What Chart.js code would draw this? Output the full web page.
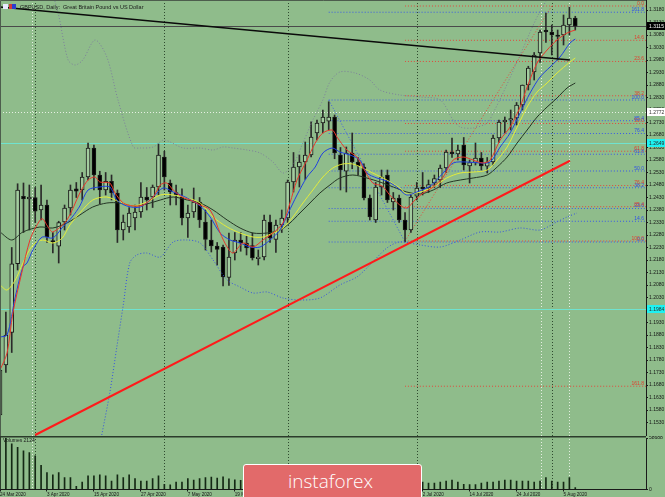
<!DOCTYPE html>
<html>
<head>
<meta charset="utf-8">
<script src="https://cdn.jsdelivr.net/npm/chart.js@4.4.0/dist/chart.umd.min.js"></script>
<style>
  html, body { margin: 0; padding: 0; background: #8fbc8b; }
  #wrap { position: relative; width: 665px; height: 497px; overflow: hidden; background: #8fbc8b; }
  #price { position: absolute; left: 0; top: 0; }
  #vol { position: absolute; left: 0; top: 436px; }
  #logo { position: absolute; left: 243px; top: 464px; width: 179px; height: 40px; box-sizing: border-box;
          background: #e26a6a; border: 1px solid #fff; border-radius: 3px; }
  #logo span { position: absolute; left: 44px; top: 3px; color: #fff; font: 300 19px "Open Sans", sans-serif; }
</style>
</head>
<body>
<div id="wrap">
  <canvas id="price" width="665" height="436"></canvas>
  <canvas id="vol" width="665" height="61"></canvas>
  <div id="logo"><span>instaforex</span></div>
</div>
<script>
// GBPUSD daily, bar 0 = 24 Mar 2020 ... bar 98 = 7 Aug 2020
const opens = [1.1560,1.1760,1.1890,1.2165,1.2435,1.2424,1.2430,1.2380,1.2400,1.2258,
  1.2235,1.2332,1.2388,1.2465,1.2460,1.2512,1.2628,1.2520,1.2460,1.2495,
  1.2448,1.2300,1.2312,1.2348,1.2372,1.2432,1.2432,1.2472,1.2592,1.2488,
  1.2450,1.2432,1.2348,1.2372,1.2412,1.2332,1.2260,1.2236,1.2232,1.2110,
  1.2208,1.2260,1.2248,1.2238,1.2185,1.2192,1.2332,1.2262,1.2320,1.2348,
  1.2492,1.2552,1.2572,1.2600,1.2688,1.2728,1.2735,1.2752,1.2600,1.2535,
  1.2608,1.2572,1.2552,1.2428,1.2340,1.2472,1.2520,1.2412,1.2428,1.2340,
  1.2300,1.2435,1.2472,1.2468,1.2488,1.2500,1.2548,1.2612,1.2604,1.2640,
  1.2556,1.2570,1.2588,1.2555,1.2572,1.2668,1.2732,1.2740,1.2748,1.2800,
  1.2880,1.2932,1.3008,1.3100,1.3092,1.3080,1.3080,1.3120,1.3148];
const highs = [1.1780,1.1972,1.2230,1.2485,1.2488,1.2480,1.2470,1.2480,1.2420,1.2290,
  1.2335,1.2400,1.2480,1.2490,1.2530,1.2648,1.2640,1.2535,1.2530,1.2520,
  1.2460,1.2360,1.2390,1.2400,1.2490,1.2470,1.2480,1.2644,1.2615,1.2500,
  1.2480,1.2465,1.2400,1.2468,1.2430,1.2380,1.2340,1.2250,1.2240,1.2288,
  1.2290,1.2290,1.2275,1.2288,1.2220,1.2360,1.2360,1.2340,1.2380,1.2500,
  1.2610,1.2600,1.2652,1.2733,1.2740,1.2780,1.2813,1.2760,1.2630,1.2632,
  1.2688,1.2590,1.2565,1.2440,1.2490,1.2540,1.2540,1.2450,1.2440,1.2370,
  1.2440,1.2490,1.2530,1.2500,1.2520,1.2560,1.2620,1.2668,1.2640,1.2670,
  1.2580,1.2648,1.2610,1.2590,1.2680,1.2740,1.2752,1.2780,1.2810,1.2880,
  1.2955,1.3010,1.3100,1.3168,1.3120,1.3100,1.3160,1.3192,1.3155];
const lows = [1.1520,1.1730,1.1810,1.2140,1.2290,1.2300,1.2330,1.2340,1.2250,1.2208,
  1.2168,1.2300,1.2360,1.2430,1.2420,1.2500,1.2460,1.2405,1.2440,1.2420,
  1.2250,1.2260,1.2290,1.2300,1.2350,1.2380,1.2390,1.2440,1.2460,1.2400,
  1.2400,1.2320,1.2270,1.2350,1.2310,1.2220,1.2212,1.2160,1.2076,1.2078,
  1.2180,1.2215,1.2200,1.2180,1.2160,1.2180,1.2250,1.2210,1.2290,1.2330,
  1.2452,1.2472,1.2502,1.2592,1.2660,1.2688,1.2700,1.2585,1.2460,1.2452,
  1.2545,1.2520,1.2420,1.2340,1.2330,1.2440,1.2410,1.2380,1.2330,1.2252,
  1.2290,1.2420,1.2440,1.2450,1.2470,1.2470,1.2530,1.2590,1.2580,1.2540,
  1.2488,1.2560,1.2540,1.2528,1.2560,1.2650,1.2688,1.2700,1.2720,1.2780,
  1.2860,1.2900,1.2970,1.3050,1.3000,1.2980,1.3040,1.3080,1.3100];
const closes = [1.1740,1.1880,1.2165,1.2460,1.2424,1.2432,1.2375,1.2400,1.2272,1.2252,
  1.2330,1.2388,1.2460,1.2455,1.2512,1.2628,1.2520,1.2460,1.2495,1.2448,
  1.2300,1.2332,1.2368,1.2372,1.2432,1.2420,1.2472,1.2600,1.2512,1.2452,
  1.2440,1.2348,1.2368,1.2412,1.2340,1.2262,1.2236,1.2222,1.2112,1.2192,
  1.2260,1.2248,1.2228,1.2188,1.2192,1.2340,1.2268,1.2320,1.2348,1.2492,
  1.2552,1.2572,1.2600,1.2672,1.2728,1.2752,1.2752,1.2608,1.2540,1.2608,
  1.2572,1.2556,1.2428,1.2352,1.2472,1.2512,1.2420,1.2428,1.2340,1.2300,
  1.2432,1.2468,1.2465,1.2482,1.2506,1.2548,1.2612,1.2604,1.2620,1.2560,
  1.2570,1.2588,1.2556,1.2572,1.2668,1.2732,1.2740,1.2746,1.2800,1.2880,
  1.2948,1.3000,1.3092,1.3092,1.3080,1.3074,1.3120,1.3148,1.3115];
const volumes = [50000,58688,52000,48000,44000,42000,38300,27500,19200,16800,
  19200,13500,13500,3600,8400,15600,15600,16800,15600,9600,
  16800,13500,16800,12300,9600,9600,12300,15600,6000,5200,
  8400,8400,12300,10800,12300,13500,14000,13000,14500,12000,
  11000,10500,11000,10000,5000,13000,14000,13000,12500,14000,
  15000,13500,14000,16000,12000,13000,15000,17000,16000,15000,
  15500,12500,14500,14000,11500,12500,13000,12000,12500,12000,
  12500,11000,8400,7200,7200,8400,9600,10800,8400,6000,
  5500,5500,7200,8400,8400,9600,10800,10800,9600,9600,
  9600,8400,9600,13500,9600,8400,8400,13500,2124];

// indicator lines: [bar, price]
const maRed = [[0,1.1740],[1.2,1.1808],[2.2,1.1968],[3.7,1.2128],[5.1,1.2260],[6.3,1.2320],[7.2,1.2345],[8.2,1.2312],[9,1.2292],[11.4,1.2340],[13.6,1.2448],[15,1.2500],[16.2,1.2512],[17,1.2492],[18.7,1.2488],[19.6,1.2448],[21,1.2408],[22.7,1.2396],[24.4,1.2400],[26.1,1.2432],[27.3,1.2480],[28.4,1.2488],[29.5,1.2460],[31,1.2432],[32.4,1.2420],[34.1,1.2400],[35.8,1.2380],[37.5,1.2288],[38.7,1.2232],[39.7,1.2208],[41.4,1.2248],[43.1,1.2232],[44.8,1.2260],[46.5,1.2288],[48.2,1.2328],[49.4,1.2408],[50.6,1.2500],[52.3,1.2580],[53.7,1.2648],[55,1.2688],[56.6,1.2700],[57.4,1.2672],[59.1,1.2620],[60.8,1.2592],[61.8,1.2552],[63.5,1.2488],[65.1,1.2476],[66.4,1.2440],[68.1,1.2400],[69.3,1.2388],[70.7,1.2420],[72.1,1.2448],[73.8,1.2472],[75.5,1.2512],[77.2,1.2580],[78.9,1.2592],[80.6,1.2580],[82.3,1.2568],[83.5,1.2580],[85.2,1.2660],[86.9,1.2712],[88.6,1.2792],[89.8,1.2872],[91.5,1.2968],[93.2,1.3020],[94.9,1.3060],[96.6,1.3088],[98,1.3100]];
const maBlue = [[0,1.1872],[1.2,1.1880],[2.6,1.2032],[3.9,1.2152],[4.6,1.2168],[5.6,1.2220],[7.2,1.2272],[9,1.2268],[10.7,1.2312],[12.3,1.2352],[13.6,1.2396],[15,1.2460],[17,1.2472],[18.7,1.2472],[19.9,1.2420],[21.6,1.2396],[23.9,1.2392],[26.1,1.2432],[27.8,1.2468],[29.5,1.2452],[31.9,1.2428],[34.1,1.2396],[35.8,1.2352],[37.5,1.2288],[39.2,1.2260],[40.9,1.2248],[42.6,1.2232],[44.3,1.2232],[46,1.2260],[47.7,1.2300],[49.1,1.2368],[50.6,1.2440],[52.3,1.2512],[53.7,1.2552],[55,1.2608],[56.6,1.2628],[57.9,1.2612],[59.6,1.2600],[61.3,1.2580],[62.5,1.2528],[64.2,1.2508],[65.9,1.2496],[67.6,1.2472],[69.3,1.2440],[71,1.2452],[73.3,1.2476],[75.5,1.2528],[77.2,1.2568],[79.6,1.2572],[81.8,1.2568],[83.5,1.2572],[85.2,1.2632],[86.9,1.2688],[88.6,1.2768],[90.3,1.2848],[92,1.2912],[93.7,1.2952],[95.4,1.2992],[97.1,1.3048],[98,1.3064]];
const maYellow = [[0,1.2080],[1.2,1.2060],[2.6,1.2100],[3.9,1.2168],[5.6,1.2240],[7.3,1.2260],[9,1.2248],[10.6,1.2268],[11.9,1.2320],[13.6,1.2368],[15.8,1.2420],[18.2,1.2432],[20.4,1.2412],[22.7,1.2396],[25,1.2412],[27.3,1.2440],[29.5,1.2440],[31.9,1.2428],[34.1,1.2408],[36.3,1.2352],[38.7,1.2312],[40.9,1.2288],[43.1,1.2272],[44.8,1.2272],[46.5,1.2288],[48.2,1.2308],[49.9,1.2352],[51.6,1.2408],[53.3,1.2460],[55,1.2512],[56.7,1.2548],[58.4,1.2564],[60.1,1.2564],[61.8,1.2548],[63.5,1.2528],[65.9,1.2500],[68.1,1.2468],[69.3,1.2444],[71.6,1.2452],[73.8,1.2472],[76.1,1.2508],[78.4,1.2528],[80.6,1.2532],[83,1.2540],[84.7,1.2580],[86.4,1.2632],[88.1,1.2712],[89.8,1.2792],[91.5,1.2852],[93.2,1.2888],[94.9,1.2928],[97.1,1.2972],[98,1.2988]];
const maDark = [[0,1.2292],[2,1.2260],[3.9,1.2292],[6.8,1.2312],[9,1.2308],[11.4,1.2328],[13.6,1.2360],[15.8,1.2392],[18.2,1.2408],[20.4,1.2408],[22.7,1.2396],[25,1.2404],[27.3,1.2420],[29.5,1.2432],[31.9,1.2420],[34.1,1.2408],[36.3,1.2380],[38.7,1.2340],[40.9,1.2308],[43.1,1.2288],[45.5,1.2288],[47.7,1.2300],[49.4,1.2328],[51.1,1.2368],[52.8,1.2408],[54.5,1.2448],[56.2,1.2480],[57.9,1.2508],[60.1,1.2520],[62.5,1.2508],[64.7,1.2492],[67,1.2472],[69.3,1.2452],[71.6,1.2444],[73.8,1.2460],[76.1,1.2488],[78.4,1.2500],[80.6,1.2508],[83,1.2520],[84.7,1.2552],[86.4,1.2592],[88.1,1.2648],[89.8,1.2700],[91.5,1.2752],[93.2,1.2792],[94.9,1.2828],[96.6,1.2868],[98,1.2888]];
const bandUpper = [[8,1.3320],[9.9,1.3168],[11.6,1.2980],[12.8,1.2960],[14.1,1.2980],[16.2,1.3060],[18.2,1.2992],[20.1,1.2820],[22.7,1.2632],[23.9,1.2628],[26.1,1.2632],[27.8,1.2660],[29,1.2652],[31.2,1.2628],[34.1,1.2628],[36.3,1.2620],[38,1.2632],[39.7,1.2628],[42.1,1.2620],[44.3,1.2608],[46.5,1.2572],[48.2,1.2528],[49.9,1.2560],[51.6,1.2648],[53.3,1.2740],[55,1.2820],[56.2,1.2892],[57.9,1.2932],[60.5,1.2928],[63,1.2900],[64.7,1.2860],[68.1,1.2840],[71.6,1.2832],[75,1.2820],[77.2,1.2740],[78.4,1.2712],[80.6,1.2708],[83,1.2728],[84,1.2768],[85.7,1.2848],[88.6,1.3000],[91.5,1.3152],[93.7,1.3240],[98,1.3380]];
const bandLower = [[14.5,1.1200],[16.2,1.1340],[17.4,1.1488],[18.7,1.1648],[19.9,1.1832],[21,1.2000],[22.1,1.2168],[23.3,1.2200],[25,1.2208],[27.3,1.2192],[29.5,1.2252],[31.9,1.2260],[34.1,1.2248],[36.3,1.2180],[38.7,1.2100],[40.9,1.2072],[43.1,1.2048],[45.5,1.2052],[48.2,1.2028],[51.1,1.2020],[54.5,1.2028],[57.9,1.2080],[60.8,1.2112],[63,1.2160],[65.9,1.2228],[68.1,1.2252],[71.6,1.2240],[75,1.2232],[78.4,1.2260],[81.8,1.2292],[85.2,1.2292],[88.6,1.2308],[92,1.2300],[94.5,1.2328],[96.6,1.2352],[98.3,1.2368]];

// drawn objects
const resistanceLine = [[0,1.3192],[97.1,1.2980]];
const supportLine = [[6,1.1480],[97.1,1.2577]];
const fibRatios = [0, 14.6, 23.6, 38.2, 50.0, 61.8, 76.4, 85.4, 100.0, 161.8];
const blueFib = { fromBar: 56, zero: 1.2252, hundred: 1.2820 };
const redFib = { fromBar: 69, zero: 1.3196, hundred: 1.2256 };
const blueFibTrend = [[56,1.2820],[69,1.2252]];
const redFibTrend = [[69,1.2256],[94,1.3196]];
const cyanLevels = [1.2649, 1.1984];
const whiteLevel = 1.2772;
const monthStarts = [6, 28, 49, 71, 94];
const markerBars = [5.45, 92.2, 97];

const priceTicks = [1.3180,1.3130,1.3080,1.3030,1.2980,1.2930,1.2880,1.2830,1.2780,1.2730,1.2680,1.2630,
  1.2580,1.2530,1.2480,1.2430,1.2380,1.2330,1.2280,1.2230,1.2180,1.2130,1.2080,1.2030,1.1980,1.1930,
  1.1880,1.1830,1.1780,1.1730,1.1680,1.1630,1.1580,1.1530];
const dateTickBars = [0, 8, 16, 24, 32, 40, 48, 56, 64, 72, 80, 88, 96];
const dateTickLabels = ["24 Mar 2020","3 Apr 2020","15 Apr 2020","27 Apr 2020","7 May 2020","19 May 2020",
  "29 May 2020","10 Jun 2020","22 Jun 2020","2 Jul 2020","14 Jul 2020","24 Jul 2020","5 Aug 2020"];

const X_MAX = 110.05;
const FONT = "Liberation Sans, Arial, sans-serif";
const lastClose = closes[closes.length - 1];

function lineSet(points, color, width, dash, order) {
  return {
    type: "line", data: points, borderColor: color, borderWidth: width,
    borderDash: dash || [], pointRadius: 0, tension: 0.3, fill: false, order: order, clip: 0
  };
}

const datasets = [];
datasets.push(lineSet(supportLine, "#ff1a1a", 2, null, 0));
datasets.push(lineSet(resistanceLine, "#0a0a0a", 1.5, null, 0));
datasets.push(lineSet(maRed, "#e8372c", 1, null, 1));
datasets.push(lineSet(maBlue, "#2041e0", 1, null, 1));
datasets.push(lineSet(maYellow, "#e4ec3a", 1, null, 1));
datasets.push(lineSet(maDark, "#243424", 1, null, 1));
datasets.push(lineSet(bandUpper, "#7d7f9c", 1, [1, 2], 1));
datasets.push(lineSet(bandLower, "#3652e0", 1, [1, 2], 1));

datasets.push({
  type: "bar", order: 2, grouped: false, barThickness: 4, minBarLength: 1,
  data: opens.map((o, i) => ({ x: i, y: [o, closes[i]] })),
  backgroundColor: opens.map((o, i) => (closes[i] >= o ? "#a3cc9f" : "#000000")),
  borderColor: "#1a1a1a", borderWidth: 1, borderSkipped: false
});
datasets.push({
  type: "bar", order: 3, grouped: false, barThickness: 1,
  data: highs.map((h, i) => ({ x: i, y: [lows[i], h] })),
  backgroundColor: "#2a2a2a"
});

fibRatios.forEach((r) => {
  const pb = blueFib.zero + (r / 100) * (blueFib.hundred - blueFib.zero);
  datasets.push(lineSet([[blueFib.fromBar, pb], [X_MAX, pb]], "#3b5be6", 1, [1, 2], 4));
  const pr = redFib.zero + (r / 100) * (redFib.hundred - redFib.zero);
  datasets.push(lineSet([[redFib.fromBar, pr], [X_MAX, pr]], "#e2483c", 1, [1, 2], 4));
});
datasets.push(lineSet(blueFibTrend, "#3b5be6", 1, [1, 2], 4));
datasets.push(lineSet(redFibTrend, "#e2483c", 1, [1, 2], 4));

const priceDecor = {
  id: "priceDecor",
  beforeDatasetsDraw(chart) {
    const { ctx, chartArea: a, scales: { x, y } } = chart;
    ctx.save();
    ctx.lineWidth = 1;
    ctx.setLineDash([1, 2]);
    ctx.strokeStyle = "#2f4a2f";
    monthStarts.forEach((b) => {
      const px = Math.round(x.getPixelForValue(b)) + 0.5;
      ctx.beginPath(); ctx.moveTo(px, a.top); ctx.lineTo(px, a.bottom); ctx.stroke();
    });
    ctx.strokeStyle = "#e6efe3";
    markerBars.forEach((b) => {
      const px = Math.round(x.getPixelForValue(b)) + 0.5;
      ctx.beginPath(); ctx.moveTo(px, a.top); ctx.lineTo(px, a.bottom); ctx.stroke();
    });
    // white dotted level
    let py = Math.round(y.getPixelForValue(whiteLevel)) + 0.5;
    ctx.beginPath(); ctx.moveTo(a.left, py); ctx.lineTo(a.right, py); ctx.stroke();
    ctx.setLineDash([]);
    ctx.strokeStyle = "#6fe3cf";
    cyanLevels.forEach((p) => {
      const yy = Math.round(y.getPixelForValue(p)) + 0.5;
      ctx.beginPath(); ctx.moveTo(a.left, yy); ctx.lineTo(a.right, yy); ctx.stroke();
    });
    // bid line
    ctx.strokeStyle = "#4a4a4a";
    py = Math.round(y.getPixelForValue(lastClose)) + 0.5;
    ctx.beginPath(); ctx.moveTo(a.left, py); ctx.lineTo(a.right, py); ctx.stroke();
    ctx.restore();
  },
  afterDraw(chart) {
    const { ctx, chartArea: a, scales: { y } } = chart;
    ctx.save();
    // fib labels
    ctx.font = "5px " + FONT;
    ctx.textAlign = "right";
    ctx.textBaseline = "bottom";
    fibRatios.forEach((r) => {
      const pb = blueFib.zero + (r / 100) * (blueFib.hundred - blueFib.zero);
      ctx.fillStyle = "#2f50e8";
      ctx.fillText(r.toFixed(1), a.right - 2, y.getPixelForValue(pb));
      const pr = redFib.zero + (r / 100) * (redFib.hundred - redFib.zero);
      ctx.fillStyle = "#e0402f";
      ctx.fillText(r.toFixed(1), a.right - 2, y.getPixelForValue(pr));
    });
    // axis boxes
    const boxes = [
      [lastClose, "#000000", "#ffffff"],
      [whiteLevel, "#ffffff", "#333333"],
      [cyanLevels[0], "#1ef2f2", "#2a2a2a"],
      [cyanLevels[1], "#1ef2f2", "#2a2a2a"]
    ];
    ctx.textAlign = "left";
    ctx.textBaseline = "middle";
    boxes.forEach(([p, bg, fg]) => {
      const yy = Math.round(y.getPixelForValue(p));
      ctx.fillStyle = bg;
      ctx.fillRect(a.right + 1, yy - 4, 665 - a.right, 8);
      ctx.fillStyle = fg;
      ctx.fillText(p.toFixed(4), a.right + 3, yy + 0.5);
    });
    // frame
    ctx.strokeStyle = "#4d5d4d";
    ctx.lineWidth = 1;
    ctx.beginPath();
    ctx.moveTo(0.5, a.bottom); ctx.lineTo(0.5, 0.5); ctx.lineTo(a.right, 0.5);
    ctx.stroke();
    // title
    ctx.fillStyle = "#e9e9ff"; ctx.fillRect(3, 4, 5, 5);
    ctx.fillStyle = "#d23a3a"; ctx.fillRect(9, 4, 3, 5);
    ctx.fillStyle = "#2a3fd0"; ctx.fillRect(12, 4, 4, 5);
    ctx.fillStyle = "#1b1b1b";
    ctx.font = "5.5px " + FONT;
    ctx.textBaseline = "middle";
    ctx.fillText("GBPUSD, Daily:  Great Britain Pound vs US Dollar", 20, 7);
    ctx.restore();
  }
};

new Chart(document.getElementById("price"), {
  type: "bar",
  data: { datasets: datasets },
  options: {
    responsive: false, animation: false, devicePixelRatio: 1, events: [],
    layout: { padding: 0, autoPadding: false },
    plugins: { legend: { display: false }, tooltip: { enabled: false } },
    scales: {
      x: { type: "linear", min: 0, max: X_MAX, offset: false, display: false, grid: { offset: false } },
      y: {
        type: "linear", position: "right", min: 1.322 - 436 / 2500, max: 1.322,
        afterBuildTicks: (s) => { s.ticks = priceTicks.map((v) => ({ value: v })); },
        afterFit: (s) => { s.width = 19; s.paddingTop = 0; s.paddingBottom = 0; },
        ticks: { callback: (v) => v.toFixed(4), font: { size: 5, family: FONT }, color: "#151515", padding: 1 },
        grid: { drawOnChartArea: false, tickLength: 2, color: "#1a1a1a" },
        border: { display: true, color: "#1a1a1a" }
      }
    }
  },
  plugins: [priceDecor]
});

const volDecor = {
  id: "volDecor",
  beforeDatasetsDraw(chart) {
    const { ctx, chartArea: a, scales: { x } } = chart;
    ctx.save();
    ctx.lineWidth = 1;
    ctx.setLineDash([1, 2]);
    ctx.strokeStyle = "#2f4a2f";
    monthStarts.forEach((b) => {
      const px = Math.round(x.getPixelForValue(b)) + 0.5;
      ctx.beginPath(); ctx.moveTo(px, 0); ctx.lineTo(px, a.bottom); ctx.stroke();
    });
    ctx.strokeStyle = "#e6efe3";
    markerBars.forEach((b) => {
      const px = Math.round(x.getPixelForValue(b)) + 0.5;
      ctx.beginPath(); ctx.moveTo(px, 0); ctx.lineTo(px, a.bottom); ctx.stroke();
    });
    ctx.restore();
  },
  afterDraw(chart) {
    const { ctx, chartArea: a } = chart;
    ctx.save();
    ctx.fillStyle = "#2b3b2b";
    ctx.fillRect(0, 0, a.right, 1.5);
    ctx.fillRect(0, 0, 1, a.bottom);
    ctx.fillStyle = "#1b1b1b";
    ctx.font = "5px " + FONT;
    ctx.textBaseline = "top";
    ctx.fillText("Volumes " + volumes[volumes.length - 1], 3, 2.5);
    ctx.restore();
  }
};

new Chart(document.getElementById("vol"), {
  type: "bar",
  data: {
    datasets: [{
      data: volumes.map((v, i) => ({ x: i, y: v })),
      barThickness: 1, grouped: false, backgroundColor: "#142814"
    }]
  },
  options: {
    responsive: false, animation: false, devicePixelRatio: 1, events: [],
    layout: { padding: { top: 2, left: 0, right: 0, bottom: 0 }, autoPadding: false },
    plugins: { legend: { display: false }, tooltip: { enabled: false } },
    scales: {
      x: {
        type: "linear", min: 0, max: X_MAX, offset: false, position: "bottom",
        afterBuildTicks: (s) => { s.ticks = dateTickBars.map((v) => ({ value: v })); },
        ticks: {
          callback: (v) => dateTickLabels[dateTickBars.indexOf(v)],
          font: { size: 4.6, family: FONT }, color: "#151515", align: "start",
          maxRotation: 0, autoSkip: false, padding: 0
        },
        grid: { drawOnChartArea: false, tickLength: 2, color: "#1a1a1a", offset: false },
        border: { display: true, color: "#1a1a1a" }
      },
      y: {
        type: "linear", position: "right", min: 0, max: 58688,
        afterBuildTicks: (s) => { s.ticks = [{ value: 0 }, { value: 58688 }]; },
        afterFit: (s) => { s.width = 19; s.paddingTop = 0; s.paddingBottom = 0; },
        ticks: { callback: (v) => String(v), font: { size: 5, family: FONT }, color: "#151515", padding: 1 },
        grid: { drawOnChartArea: false, tickLength: 2, color: "#1a1a1a" },
        border: { display: true, color: "#1a1a1a" }
      }
    }
  },
  plugins: [volDecor]
});
</script>
</body>
</html>
